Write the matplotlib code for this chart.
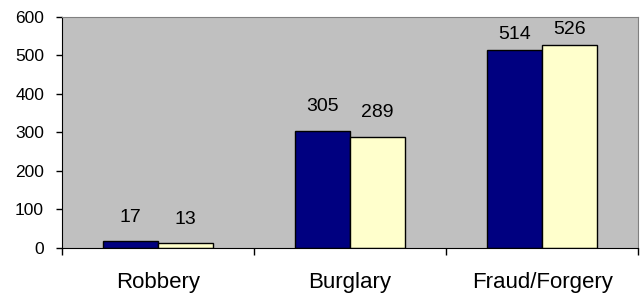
import numpy as np
import matplotlib.pyplot as plt
from matplotlib.ticker import FixedLocator, NullFormatter

plt.rcParams['font.family'] = ['Liberation Sans', 'DejaVu Sans']

categories = ["Robbery", "Burglary", "Fraud/Forgery"]
series_a = [17, 305, 514]
series_b = [13, 289, 526]

fig = plt.figure(figsize=(6.4, 2.97), dpi=100)
ax = fig.add_axes([0.097, 0.165, 0.9, 0.778])
ax.set_facecolor("#c0c0c0")

x = np.arange(len(categories))
w = 0.287
ax.bar(x - w / 2, series_a, w, color="#000080", edgecolor="black", linewidth=1)
ax.bar(x + w / 2, series_b, w, color="#ffffcc", edgecolor="black", linewidth=1)

# labels sit ~15px above bar, squeezed down when near the top of the plot
for xs, vals in ((x - w / 2, series_a), (x + w / 2, series_b)):
    for xi, v in zip(xs, vals):
        off = 11 if v < 450 else 5
        ax.annotate(str(v), (xi, v), xytext=(0, off), textcoords="offset points",
                    ha="center", va="bottom", fontsize=14)

ax.set_xlim(-0.5, 2.5)
ax.set_ylim(0, 600)
ax.set_yticks(range(0, 601, 100))
ax.tick_params(axis="y", labelsize=12.5, direction="out", length=4, width=1, pad=9)

ax.xaxis.set_major_locator(FixedLocator([-0.5, 0.5, 1.5, 2.5]))
ax.xaxis.set_major_formatter(NullFormatter())
ax.xaxis.set_minor_locator(FixedLocator(x))
ax.set_xticklabels(categories, minor=True)
ax.tick_params(axis="x", which="major", direction="out", length=5, width=1)
ax.tick_params(axis="x", which="minor", length=0, labelsize=16, pad=17)

ax.spines["top"].set_color("#808080")
ax.spines["right"].set_color("#808080")

plt.savefig("out.png", dpi=100)
